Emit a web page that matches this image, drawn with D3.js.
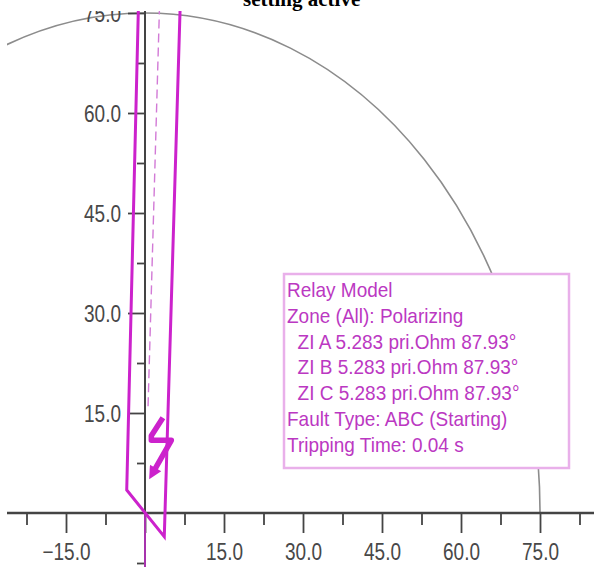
<!DOCTYPE html>
<html>
<head>
<meta charset="utf-8">
<script src="https://cdn.jsdelivr.net/npm/d3@7"></script>
<style>
body { margin: 0; background: #fff; }
svg { display: block; }
</style>
</head>
<body>
<script>
// impedance plane: R (x) and X (y), primary ohms
var xMajor = [-15, 0, 15, 30, 45, 60, 75];
var xMinor = [-22.5, -7.5, 7.5, 22.5, 37.5, 52.5, 67.5, 82.5];
var yMajor = [15, 30, 45, 60, 75];
var yMinor = [-7.5, 7.5, 22.5, 37.5, 52.5, 67.5];

// zone polygon (quadrilateral), top corners run off the chart
var zoneR = [-3.47, 3.66, 7.21, -0.82];
var zoneX = [3.45, -3.55, 90, 90];

// line impedance angle (dashed)
var lineR = [0.58, 3.3];
var lineX = [16, 91];

// fault trajectory
var trajR = [3.4, 1.2, 1.2, 5.0, 1.4];
var trajX = [14.3, 11.6, 10.9, 10.9, 5.9];

// grey circle
var circleRadius = 75;

var boxLines = [
    "Relay Model",
    "Zone (All): Polarizing",
    "  ZI A 5.283 pri.Ohm 87.93\u00b0",
    "  ZI B 5.283 pri.Ohm 87.93\u00b0",
    "  ZI C 5.283 pri.Ohm 87.93\u00b0",
    "Fault Type: ABC (Starting)",
    "Tripping Time: 0.04 s"
];

var W = 594, H = 567;
var plot = {left: 7, top: 11, right: 594, bottom: 567};

var svg = d3.select("body")
    .append("svg")
    .attr("width", W)
    .attr("height", H);

svg.append("defs").append("clipPath")
    .attr("id", "clip")
    .append("rect")
    .attr("x", plot.left)
    .attr("y", plot.top)
    .attr("width", plot.right - plot.left)
    .attr("height", plot.bottom - plot.top);

svg.select("defs").append("marker")
    .attr("id", "arrow")
    .attr("viewBox", "0 0 10 10")
    .attr("refX", 5)
    .attr("refY", 5)
    .attr("markerWidth", 16)
    .attr("markerHeight", 13)
    .attr("markerUnits", "userSpaceOnUse")
    .attr("orient", "auto")
    .append("path")
    .attr("d", "M0,0L10,5L0,10Z")
    .attr("fill", "#cc22cc");

var x = d3.scaleLinear().domain([-15, 75]).range([66, 540]);
var y = d3.scaleLinear().domain([0, 60]).range([513, 113]);

var g = svg.append("g").attr("clip-path", "url(#clip)");

// circle (upper half)
g.append("path")
    .attr("d", "M" + x(circleRadius) + "," + y(0) +
        "A" + (x(circleRadius) - x(0)) + "," + (y(0) - y(circleRadius)) +
        " 0 0 0 " + x(-circleRadius) + "," + y(0))
    .attr("fill", "none")
    .attr("stroke", "#8c8c8c")
    .attr("stroke-width", 1.6);

// x axis
var xAxisG = g.append("g").attr("transform", "translate(0," + y(0) + ")");
xAxisG.append("line")
    .attr("x1", plot.left).attr("x2", plot.right)
    .attr("stroke", "#444").attr("stroke-width", 2.5);
xAxisG.append("g")
    .call(d3.axisBottom(x).tickValues(xMinor).tickSize(12).tickFormat(""))
    .call(function(a) { a.select(".domain").remove(); });
xAxisG.append("g")
    .call(d3.axisBottom(x).tickValues(xMajor).tickSize(20).tickFormat(function(d) { return d == 0 ? "" : d3.format(".1f")(d); }))
    .call(function(a) { a.select(".domain").remove(); })
    .selectAll("text")
    .attr("y", 0).attr("dy", 0)
    .attr("transform", "translate(0,47) scale(1,1.22)");
xAxisG.selectAll(".tick line").attr("stroke", "#444").attr("stroke-width", 1.8);

// y axis
var yAxisG = g.append("g").attr("transform", "translate(" + x(0) + ",0)");
yAxisG.append("line")
    .attr("y1", plot.top).attr("y2", plot.bottom)
    .attr("stroke", "#444").attr("stroke-width", 2);
yAxisG.append("g")
    .call(d3.axisLeft(y).tickValues(yMinor).tickSize(8).tickFormat(""))
    .call(function(a) { a.select(".domain").remove(); });
yAxisG.append("g")
    .call(d3.axisLeft(y).tickValues(yMajor).tickSize(17).tickFormat(d3.format(".1f")))
    .call(function(a) { a.select(".domain").remove(); })
    .selectAll("text")
    .attr("x", 0).attr("dy", 0)
    .attr("transform", "translate(-24,8.5) scale(1,1.22)");
yAxisG.selectAll(".tick line").attr("stroke", "#444").attr("stroke-width", 1.8);

svg.selectAll(".tick text")
    .attr("fill", "#484848")
    .style("font-family", "'Liberation Sans', Arial, sans-serif")
    .style("font-size", "19px");

// magenta along negative X
g.append("line")
    .attr("x1", x(0)).attr("y1", y(0))
    .attr("x2", x(0)).attr("y2", y(-10))
    .attr("stroke", "#c030c8").attr("stroke-width", 2).attr("opacity", 0.8);

// dashed line angle
var lineData = d3.zip(lineR, lineX);
g.append("path")
    .datum(lineData)
    .attr("d", d3.line().x(function(d) { return x(d[0]); }).y(function(d) { return y(d[1]); }))
    .attr("fill", "none")
    .attr("stroke", "#d27ad6")
    .attr("stroke-width", 1.4)
    .attr("stroke-dasharray", "9,5");

// zone polygon
var zoneData = d3.zip(zoneR, zoneX);
g.append("path")
    .datum(zoneData)
    .attr("d", d3.line().x(function(d) { return x(d[0]); }).y(function(d) { return y(d[1]); }).curve(d3.curveLinearClosed))
    .attr("fill", "none")
    .attr("stroke", "#cc22cc")
    .attr("stroke-width", 3)
    .attr("stroke-linejoin", "miter");

// trajectory
var trajData = d3.zip(trajR, trajX);
g.append("path")
    .datum(trajData)
    .attr("d", d3.line().x(function(d) { return x(d[0]); }).y(function(d) { return y(d[1]); }))
    .attr("fill", "none")
    .attr("stroke", "#cc22cc")
    .attr("stroke-width", 5.5)
    .attr("stroke-linejoin", "round")
    .attr("marker-end", "url(#arrow)");

// info box
var box = svg.append("g");
box.append("rect")
    .attr("x", 284).attr("y", 274)
    .attr("width", 285).attr("height", 194)
    .attr("fill", "#fff")
    .attr("stroke", "#e9b0ea")
    .attr("stroke-width", 2.5);
box.selectAll("text")
    .data(boxLines)
    .enter().append("text")
    .attr("transform", function(d, i) { return "translate(287," + (297 + i * 25.8) + ") scale(1,1.1)"; })
    .attr("fill", "#bb38c2")
    .style("font-family", "'Liberation Sans', Arial, sans-serif")
    .style("font-size", "19px")
    .style("white-space", "pre")
    .attr("xml:space", "preserve")
    .text(function(d) { return d; });

// title, cut at top like the reference
svg.append("text")
    .attr("x", 243).attr("y", 6)
    .style("font-family", "'Liberation Serif', 'Times New Roman', serif")
    .style("font-weight", "bold")
    .style("font-size", "21px")
    .attr("fill", "#000")
    .text("setting active");
</script>
</body>
</html>
